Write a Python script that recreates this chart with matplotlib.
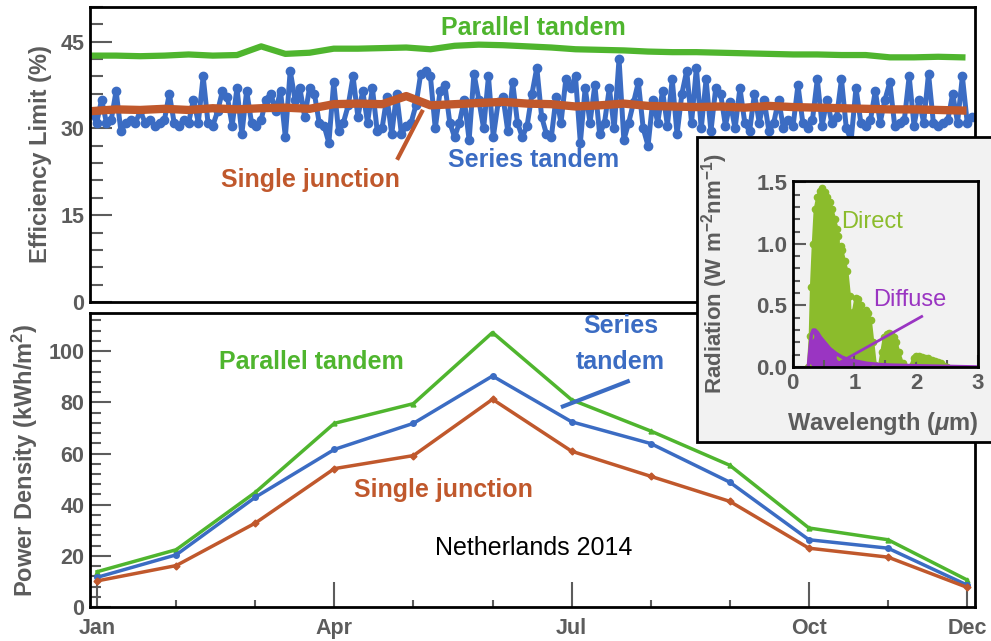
import numpy as np
import matplotlib.pyplot as plt
from matplotlib.patches import Rectangle
from matplotlib.ticker import MultipleLocator, FixedLocator

plt.rcParams['font.family'] = ['Liberation Sans', 'DejaVu Sans']
plt.rcParams['font.weight'] = 'bold'
plt.rcParams['axes.labelweight'] = 'bold'
plt.rcParams['mathtext.fontset'] = 'custom'
plt.rcParams['mathtext.rm'] = 'Liberation Sans:bold'
plt.rcParams['mathtext.it'] = 'Liberation Sans:italic:bold'
plt.rcParams['mathtext.bf'] = 'Liberation Sans:bold'

# ---- top panel: daily efficiency limit (%) ----
eff_days_blue = np.arange(1, 366, 2)
eff_series = [
    32.5, 31, 35, 31, 31.5, 36.5, 29.5, 31, 31.5, 31, 33, 31, 31.5, 30.5, 31, 31.5,
    36, 31, 30.5, 31.5, 31, 35, 31, 39, 31, 30.5, 33, 36.5, 35.5, 30.5, 37,
    29, 36.5, 31, 30.5, 31.5, 35, 36, 33, 36.5, 28.5, 40, 35, 37, 32, 37,
    36, 31, 30.5, 27.5, 38, 29.5, 31, 34, 39, 32, 36.5, 31, 37, 29.5, 30,
    35.5, 29, 36, 29, 30.5, 31, 34, 39.5, 40, 39, 30, 36.5, 37.5, 31, 28.5,
    31, 35, 28, 39.5, 35, 30, 39, 28.5, 34.5, 35.5, 29.5, 38, 31, 28.5, 30.5, 36,
    40.5, 32, 29, 28.5, 35.5, 31, 38.5, 37, 39, 27.5, 37, 31, 37.5, 29, 31,
    37, 30, 42, 28, 31, 34.5, 38, 30, 27, 35, 31, 36.5, 30.5, 38.5, 29, 36,
    40, 31, 40.5, 30, 38.5, 29.5, 37, 36, 30.5, 34.5, 30, 37, 31, 29.5, 36,
    31, 35, 29.5, 31, 35, 30, 31.5, 30.5, 37.5, 31, 30, 31.5, 38.5, 30.5, 35,
    31, 32, 38.5, 30, 28, 37, 31, 30.5, 31.5, 36.5, 31, 35, 38, 30.5, 31,
    31.5, 39, 30.5, 35, 31, 39.5, 31, 30.5, 31, 31.5, 36, 31, 39, 31, 32,
]
eff_days = np.arange(1, 366, 10)
eff_parallel = [
    42.6, 42.6, 42.5, 42.6, 42.8, 42.6, 42.7, 44.2, 42.9, 43.1, 43.8, 43.8, 43.9,
    44.0, 43.7, 44.3, 44.5, 44.4, 44.2, 44.0, 43.7, 43.6, 43.5, 43.3, 43.2, 43.2,
    43.1, 43.0, 42.9, 42.8, 42.8, 42.7, 42.7, 42.3, 42.3, 42.4, 42.3,
]
eff_single = [
    33.0, 33.3, 33.2, 33.4, 33.2, 33.5, 33.3, 33.5, 33.6, 33.4, 34.2, 34.3, 34.2,
    35.6, 34.0, 34.2, 34.4, 34.6, 34.3, 34.2, 33.8, 34.0, 34.3, 33.9, 33.8, 33.7,
    33.8, 33.6, 33.9, 33.7, 33.6, 33.5, 33.4, 33.3, 33.3, 33.2, 33.1,
]

# ---- bottom panel: monthly power density (kWh/m2) ----
months = np.arange(1, 13)
month_ticks = [1, 4, 7, 10, 12]
month_labels = ['Jan', 'Apr', 'Jul', 'Oct', 'Dec']
pd_parallel = [13.8, 22.4, 44.8, 71.8, 79.5, 107.3, 81.0, 68.8, 55.4, 30.9, 26.3, 10.6]
pd_series = [11.6, 20.4, 42.9, 61.6, 71.8, 90.3, 72.4, 63.9, 48.8, 26.3, 23.0, 8.6]
pd_single = [10.2, 16.2, 32.8, 54.1, 59.2, 81.2, 60.9, 51.1, 41.3, 23.0, 19.5, 7.7]

# ---- inset: spectra ----
direct_wl = [0.25, 0.28, 0.30, 0.33, 0.36, 0.40, 0.44, 0.48, 0.52, 0.56, 0.60, 0.64,
             0.68, 0.72, 0.74, 0.76, 0.78, 0.80, 0.84, 0.88, 0.92, 0.95, 0.98, 1.02,
             1.06, 1.10, 1.14, 1.18, 1.22, 1.26, 1.30, 1.34, 1.40, 1.44, 1.48, 1.52,
             1.56, 1.60, 1.64, 1.68, 1.72, 1.78, 1.84, 1.90, 1.96, 2.00, 2.05, 2.10,
             2.15, 2.20, 2.25, 2.30, 2.35, 2.40, 2.45, 2.50]
direct_rad = [0.0, 0.25, 0.65, 1.00, 1.28, 1.38, 1.43, 1.45, 1.42, 1.38, 1.34, 1.28,
              1.20, 1.12, 1.06, 0.08, 0.98, 0.95, 0.86, 0.78, 0.58, 0.15, 0.45, 0.56,
              0.55, 0.50, 0.42, 0.46, 0.44, 0.38, 0.20, 0.02, 0.0, 0.12, 0.24, 0.27,
              0.28, 0.27, 0.24, 0.20, 0.12, 0.03, 0.0, 0.0, 0.07, 0.09, 0.09, 0.08,
              0.07, 0.07, 0.06, 0.05, 0.04, 0.03, 0.01, 0.0]
o2_wl = [0.76, 0.76, 0.76, 0.76, 0.76, 0.76, 0.76]
o2_rad = [0.16, 0.26, 0.36, 0.46, 0.56, 0.66, 0.76]
diffuse_wl = [0.25, 0.28, 0.30, 0.33, 0.36, 0.40, 0.45, 0.50, 0.55, 0.60, 0.70, 0.80,
              0.90, 1.00, 1.20, 1.40, 1.60, 2.00, 2.50, 3.00]
diffuse_rad = [0.0, 0.15, 0.26, 0.30, 0.30, 0.28, 0.24, 0.21, 0.18, 0.15, 0.11, 0.08,
               0.06, 0.05, 0.03, 0.02, 0.015, 0.01, 0.005, 0.0]

GREEN = '#4fb52e'
BLUE = '#3b6cc3'
ORANGE = '#c0582c'
IGREEN = '#8bbc2c'
PURPLE = '#9a35c2'
GREY = '#5c5c5c'


def style_axes(ax):
    for s in ax.spines.values():
        s.set_linewidth(2)
        s.set_color('black')


fig = plt.figure(figsize=(9.91, 6.41), dpi=100)

# top panel
ax1 = fig.add_axes([0.0908, 0.529, 0.8930, 0.460])
ax1.plot(eff_days, eff_parallel, color=GREEN, lw=4.5, solid_joinstyle='round')
ax1.plot(eff_days_blue, eff_series, color=BLUE, lw=3.6, marker='o', ms=6)
ax1.plot(eff_days, eff_single, color=ORANGE, lw=6, solid_joinstyle='round')
ax1.plot([127.6, 137.5], [24.9, 32.9], color=ORANGE, lw=3)
ax1.text(183.6, 47.4, 'Parallel tandem', color=GREEN, fontsize=18, ha='center', va='center')
ax1.text(183.6, 24.6, 'Series tandem', color=BLUE, fontsize=18, ha='center', va='center')
ax1.text(91.5, 21.1, 'Single junction', color=ORANGE, fontsize=18, ha='center', va='center')
ax1.set_xlim(0.2, 366.2)
ax1.set_ylim(0, 51)
ax1.set_xticks([])
ax1.yaxis.set_major_locator(MultipleLocator(15))
ax1.yaxis.set_minor_locator(MultipleLocator(3))
ax1.tick_params(axis='y', which='major', direction='in', length=16, width=1.5,
                color=GREY, labelsize=15.5, labelcolor=GREY, pad=4)
ax1.tick_params(axis='y', which='minor', direction='in', length=9, width=1.5, color=GREY)
ax1.set_ylabel('Efficiency Limit (%)', fontsize=17, color=GREY)
ax1.yaxis.set_label_coords(-0.043, 0.5)
style_axes(ax1)

# bottom panel
ax2 = fig.add_axes([0.0908, 0.053, 0.8930, 0.459])
ax2.plot(months, pd_parallel, color=GREEN, lw=2.5, marker='^', ms=3.5)
ax2.plot(months, pd_series, color=BLUE, lw=2.5, marker='o', ms=4)
ax2.plot(months, pd_single, color=ORANGE, lw=2.5, marker='D', ms=3.5)
ax2.plot([6.89, 7.71], [78.4, 88.2], color=BLUE, lw=3)
ax2.text(3.71, 95.7, 'Parallel tandem', color=GREEN, fontsize=18, ha='center', va='center')
ax2.text(5.38, 45.9, 'Single junction', color=ORANGE, fontsize=18, ha='center', va='center')
ax2.text(7.62, 109.8, 'Series', color=BLUE, fontsize=18, ha='center', va='center')
ax2.text(7.62, 95.7, 'tandem', color=BLUE, fontsize=18, ha='center', va='center')
ax2.text(6.52, 23.1, 'Netherlands 2014', color='black', fontsize=18, fontweight='normal',
         ha='center', va='center')
ax2.set_xlim(0.91, 12.1)
ax2.set_ylim(0, 115)
ax2.xaxis.set_major_locator(FixedLocator(month_ticks))
ax2.xaxis.set_minor_locator(FixedLocator([m for m in months if m not in month_ticks]))
ax2.set_xticklabels(month_labels)
ax2.yaxis.set_major_locator(MultipleLocator(20))
ax2.yaxis.set_minor_locator(MultipleLocator(4))
ax2.tick_params(axis='both', which='major', direction='in', width=1.5, color=GREY,
                labelsize=15.5, labelcolor=GREY)
ax2.tick_params(axis='y', which='major', length=15, pad=4)
ax2.tick_params(axis='y', which='minor', direction='in', length=8, width=1.5, color=GREY)
ax2.tick_params(axis='x', which='major', length=18, pad=8)
ax2.tick_params(axis='x', which='minor', direction='in', length=5, width=1.5, color=GREY)
ax2.set_ylabel('Power Density (kWh/m$^{2}$)', fontsize=17, color=GREY)
ax2.yaxis.set_label_coords(-0.0565, 0.5)
style_axes(ax2)

# inset
bg = Rectangle((0.7033, 0.3105), 0.31, 0.4758, transform=fig.transFigure,
               facecolor='#f2f2f2', edgecolor='black', lw=2, zorder=5)
fig.add_artist(bg)
ax3 = fig.add_axes([0.800, 0.4275, 0.1867, 0.290])
ax3.set_zorder(10)
ax3.set_facecolor('#f2f2f2')
ax3.fill_between(direct_wl, 0, direct_rad, color=IGREEN, lw=0)
ax3.plot(direct_wl, direct_rad, color=IGREEN, lw=2, marker='o', ms=4.5)
ax3.plot(o2_wl, o2_rad, ls='none', marker='o', ms=4.5, color=IGREEN)
ax3.fill_between(diffuse_wl, 0, diffuse_rad, color=PURPLE, lw=0)
ax3.plot(diffuse_wl, diffuse_rad, color=PURPLE, lw=2.5)
ax3.plot([2.09, 0.63], [0.41, 0.0], color=PURPLE, lw=2)
ax3.text(0.78, 1.18, 'Direct', color=IGREEN, fontsize=17, fontweight='normal',
         ha='left', va='center')
ax3.text(1.90, 0.545, 'Diffuse', color=PURPLE, fontsize=17, fontweight='normal',
         ha='center', va='center')
ax3.set_xlim(0, 3)
ax3.set_ylim(0, 1.51)
ax3.xaxis.set_major_locator(MultipleLocator(1))
ax3.xaxis.set_minor_locator(MultipleLocator(0.5))
ax3.yaxis.set_major_locator(MultipleLocator(0.5))
ax3.yaxis.set_minor_locator(MultipleLocator(0.1))
ax3.yaxis.set_major_formatter(plt.FormatStrFormatter('%.1f'))
ax3.tick_params(axis='both', which='major', direction='in', length=9, width=1.5,
                color=GREY, labelsize=16, labelcolor=GREY, pad=4)
ax3.tick_params(axis='both', which='minor', direction='in', length=5, width=1.5, color=GREY)
ax3.set_ylabel('Radiation (W m$^{-2}$nm$^{-1}$)', fontsize=16, color=GREY)
ax3.yaxis.set_label_coords(-0.34, 0.5)
ax3.set_xlabel('Wavelength ($\\mathit{μ}$m)', fontsize=17, color=GREY)
ax3.xaxis.set_label_coords(0.487, -0.23)
style_axes(ax3)

fig.savefig('out.png', dpi=100)
